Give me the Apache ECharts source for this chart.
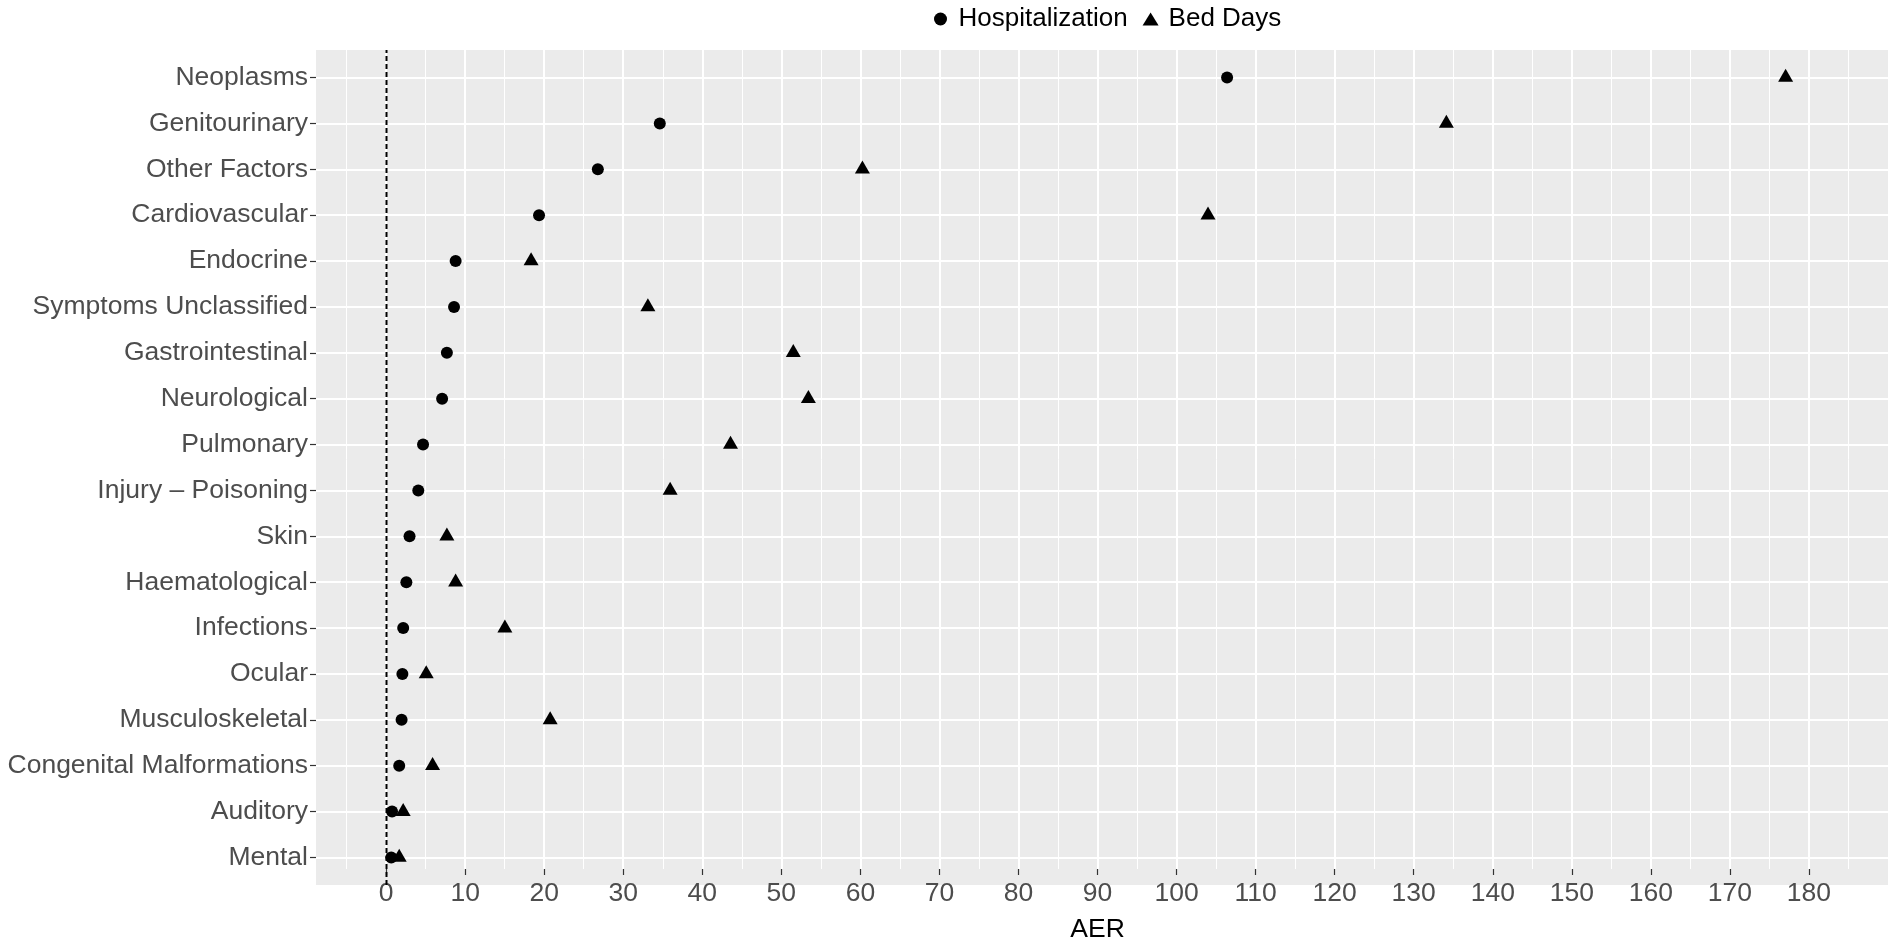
<!DOCTYPE html>
<html><head><meta charset="utf-8">
<script src="https://cdn.jsdelivr.net/npm/echarts@6/dist/echarts.min.js"></script>
<style>html,body{margin:0;padding:0;background:#fff}#chart{width:1888px;height:948px}</style>
</head><body><div id="chart"></div>
<script>
// ---------------- data ----------------
const categories = ['Neoplasms','Genitourinary','Other Factors','Cardiovascular','Endocrine',
  'Symptoms Unclassified','Gastrointestinal','Neurological','Pulmonary','Injury \u2013 Poisoning',
  'Skin','Haematological','Infections','Ocular','Musculoskeletal','Congenital Malformations',
  'Auditory','Mental'];
const hospitalization = [105.8, 34.4, 26.6, 19.2, 8.7, 8.5, 7.6, 7.0, 4.6, 4.0, 2.9, 2.5, 2.1, 2.0, 1.9, 1.6, 0.7, 0.6];
const bedDays = [176.1, 133.4, 59.9, 103.4, 18.2, 32.9, 51.2, 53.1, 43.3, 35.7, 7.6, 8.7, 14.9, 5.0, 20.6, 5.8, 2.1, 1.6];
const xTicks = [0,10,20,30,40,50,60,70,80,90,100,110,120,130,140,150,160,170,180];
const zeroLine = 0;
const seriesNames = ['Hospitalization', 'Bed Days'];
const xTitle = 'AER';

// ---------------- layout ----------------
const FONT = "'Liberation Sans', Arial, Helvetica, sans-serif";
const PANEL = {left: 316, top: 50, width: 1572, height: 835};
const X0PX = 386.5, PXU = 7.945;           // pixel of x=0 and pixels per unit
const xLo = (PANEL.left - X0PX) / PXU;
const xHi = (PANEL.left + PANEL.width - X0PX) / PXU;
const AX_MIN = -10, AX_MAX = 190;
const n = categories.length;
const step = PANEL.height / (n - 1 + 1.2);

const chart = echarts.init(document.getElementById('chart'), null, {renderer: 'canvas'});
const option = {
  animation: false,
  backgroundColor: '#ffffff',
  textStyle: {fontFamily: FONT},
  legend: {
    top: 1, left: 929, itemWidth: 16, itemHeight: 13, itemGap: 15,
    textStyle: {fontSize: 26, color: '#000000', fontFamily: FONT, padding: [0, 0, 0, 5]},
    data: [{name: seriesNames[0], icon: 'circle'}, {name: seriesNames[1], icon: 'triangle'}]
  },
  grid: [
    {left: PANEL.left, top: PANEL.top, width: PANEL.width, height: PANEL.height,
     show: true, backgroundColor: '#EBEBEB', borderWidth: 0},
    {left: X0PX + AX_MIN * PXU, top: PANEL.top, width: (AX_MAX - AX_MIN) * PXU, height: PANEL.height,
     show: false},
    {left: PANEL.left, top: PANEL.top + 0.6 * step, width: PANEL.width, height: (n - 1) * step,
     show: false}
  ],
  xAxis: [
    {gridIndex: 0, type: 'value', min: xLo, max: xHi, show: false, axisLine: {onZero: false}},
    {gridIndex: 1, type: 'value', min: AX_MIN, max: AX_MAX, interval: 10,
     name: xTitle, nameLocation: 'middle', nameGap: 47,
     nameTextStyle: {fontSize: 26.5, color: '#000000', fontFamily: FONT},
     axisLine: {show: false, onZero: false},
     axisTick: {show: true, length: 6, lineStyle: {color: '#333333', width: 1.2}, customValues: xTicks},
     axisLabel: {fontSize: 26.5, color: '#4D4D4D', margin: 11, fontFamily: FONT, customValues: xTicks,
       formatter: v => (v < 0 || v > 180) ? '' : String(v)},
     splitLine: {show: true, lineStyle: {color: '#FFFFFF', width: 2}},
     minorTick: {show: false, splitNumber: 2},
     minorSplitLine: {show: true, lineStyle: {color: '#FFFFFF', width: 1}}
    },
    {gridIndex: 2, type: 'value', min: xLo, max: xHi, show: false, axisLine: {onZero: false}}
  ],
  yAxis: [
    {gridIndex: 0, type: 'value', min: 0, max: 1, show: false, axisLine: {onZero: false}},
    {gridIndex: 1, type: 'value', min: 0, max: 1, show: false, axisLine: {onZero: false}},
    {gridIndex: 2, type: 'category', data: categories, inverse: true, boundaryGap: false,
     position: 'left',
     axisLine: {show: false, onZero: false},
     axisTick: {show: true, length: 6, interval: 0, lineStyle: {color: '#333333', width: 1.2}},
     axisLabel: {fontSize: 26.5, color: '#4D4D4D', margin: 8, interval: 0, fontFamily: FONT},
     splitLine: {show: true, interval: 0, lineStyle: {color: '#FFFFFF', width: 2}}
    }
  ],
  series: [
    {type: 'line', xAxisIndex: 0, yAxisIndex: 0, data: [[zeroLine, 0], [zeroLine, 1]],
     symbol: 'none', silent: true, z: 1,
     lineStyle: {color: '#000000', width: 2, type: [5, 3]}},
    {name: seriesNames[0], type: 'scatter', xAxisIndex: 2, yAxisIndex: 2,
     data: hospitalization.map((v, i) => [v, categories[i]]),
     symbol: 'circle', symbolSize: 12, itemStyle: {color: '#000000', opacity: 1}, z: 3},
    {name: seriesNames[1], type: 'scatter', xAxisIndex: 2, yAxisIndex: 2,
     data: bedDays.map((v, i) => [v, categories[i]]),
     symbol: 'triangle', symbolSize: [15, 13], symbolOffset: [0, -2.2],
     itemStyle: {color: '#000000', opacity: 1}, z: 3}
  ]
};
chart.setOption(option);
</script></body></html>
